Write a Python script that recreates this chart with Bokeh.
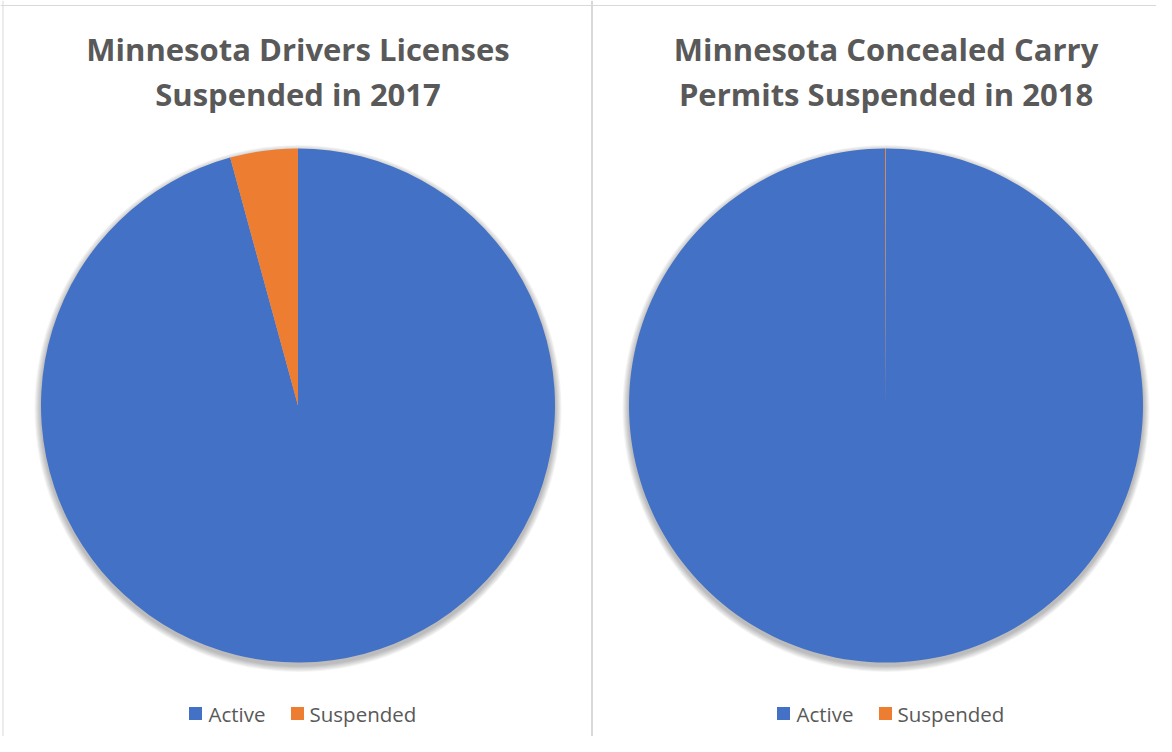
import math
from bokeh.plotting import figure
from bokeh.models import Range1d, Span
from bokeh.core.properties import value
from bokeh.embed import file_html
from bokeh.resources import INLINE

# ---- data ----
categories = ["Active", "Suspended"]
drivers_2017 = [95.75, 4.25]          # percent
permits_2018 = [99.95, 0.05]          # percent
titles = [["Minnesota Drivers Licenses", "Suspended in 2017"],
          ["Minnesota Concealed Carry", "Permits Suspended in 2018"]]
colors = ["#4371C6", "#ED7D31"]

W, H = 1156, 736
p = figure(width=W, height=H, output_backend="svg", toolbar_location=None,
           x_range=Range1d(0, W), y_range=Range1d(752 - H, 752),
           min_border=0)
p.axis.visible = False
p.grid.visible = False
p.outline_line_color = None
p.background_fill_color = "white"

def Y(y):
    return 752 - y

FONT = "Open Sans"
TITLE_COLOR = "#595959"

panels = [(297.5, drivers_2017, titles[0]), (885.5, permits_2018, titles[1])]
R = 257
CY = 405

for cx, vals, ttl in panels:
    # soft shadow
    for k in range(8):
        p.circle(x=[cx], y=[Y(CY + 3)], radius=R + 1 + k * 0.8,
                 fill_color="black", fill_alpha=0.035, line_color=None)
    total = sum(vals)
    start = math.pi / 2
    for v, c in zip(vals, colors):
        end = start - v / total * 2 * math.pi
        p.wedge(x=[cx], y=[Y(CY)], radius=R, start_angle=start, end_angle=end,
                direction="clock", fill_color=c, line_color=None)
        start = end
    # title
    p.text(x=[cx, cx], y=[Y(48), Y(93)], text=ttl, text_align="center",
           text_baseline="middle", text_font=value(FONT), text_font_style="bold",
           text_font_size="31px", text_color=TITLE_COLOR)
    # legend
    lx = cx - 102.5
    p.rect(x=[lx, lx + 102], y=[Y(713), Y(713)], width=13, height=13,
           fill_color=colors, line_color=None)
    p.text(x=[lx + 13, lx + 114], y=[Y(713), Y(713)], text=categories,
           text_align="left", text_baseline="middle", text_font=value(FONT),
           text_font_size="20.5px", text_color=TITLE_COLOR)

p.add_layout(Span(location=591.5, dimension="height", line_color="#d9d9d9", line_width=2))
p.add_layout(Span(location=2.5, dimension="height", line_color="#d9d9d9", line_width=1))
p.add_layout(Span(location=Y(5), dimension="width", line_color="#d9d9d9", line_width=1))

open("out.html", "w").write(file_html(p, INLINE))
